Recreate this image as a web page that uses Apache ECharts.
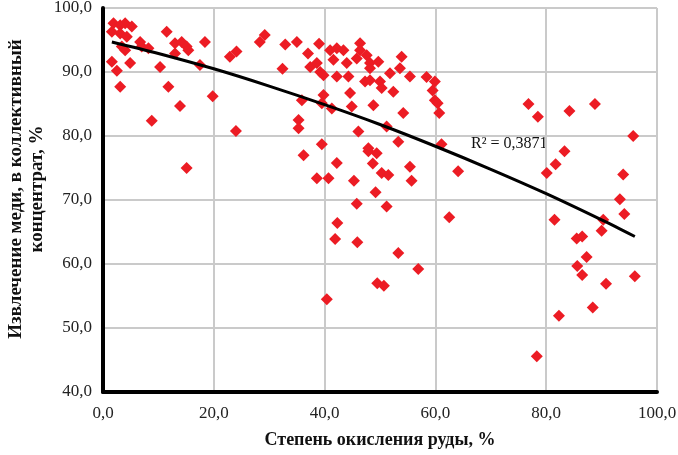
<!DOCTYPE html>
<html>
<head>
<meta charset="utf-8">
<script src="https://cdn.jsdelivr.net/npm/echarts@6/dist/echarts.min.js"></script>
<style>
  html, body { margin: 0; padding: 0; background: #fff; }
  #chart { width: 678px; height: 455px; }
</style>
</head>
<body>
<div id="chart"></div>
<script>
// степень окисления (x, %) и извлечение меди (y, %)
const pointsLeft = [
  [1.9, 97.6], [3.1, 97.3], [4.0, 97.6], [5.2, 97.1], [1.6, 96.3], [3.1, 96.0], [4.3, 95.5],
  [3.4, 94.0], [4.0, 93.4], [6.7, 94.7], [7.0, 94.0], [8.2, 93.7], [11.5, 96.3], [13.0, 94.5],
  [14.2, 94.7], [15.1, 94.0], [15.4, 93.4], [13.0, 92.9], [18.4, 94.7], [1.6, 91.6], [4.9, 91.4],
  [10.3, 90.8], [17.5, 91.1], [2.5, 90.2], [3.1, 87.7], [11.8, 87.7], [19.8, 86.2], [13.9, 84.7],
  [8.8, 82.4], [24.0, 80.8], [15.1, 75.0], [22.9, 92.4], [24.1, 93.2], [28.3, 94.7], [29.2, 95.8],
  [32.9, 94.3], [32.4, 90.5]
];
const pointsMiddle = [
  [35.0, 94.7], [39.0, 94.4], [37.0, 92.9], [37.4, 90.8], [38.6, 91.4], [39.2, 90.0], [39.8, 89.5],
  [41.0, 93.4], [42.2, 93.7], [43.4, 93.4], [41.6, 91.9], [42.2, 89.3], [44.3, 89.3], [44.0, 91.4],
  [46.4, 94.5], [46.4, 93.4], [45.8, 92.1], [47.6, 92.6], [48.2, 91.4], [49.7, 91.6], [48.2, 90.6],
  [47.3, 88.5], [48.2, 88.7], [50.0, 88.5], [50.3, 87.5], [51.8, 89.8], [53.9, 92.4], [53.6, 90.6],
  [55.4, 89.3], [52.4, 86.9], [39.8, 86.4], [44.6, 86.7], [58.4, 89.2], [59.9, 88.5], [59.5, 87.1],
  [59.9, 85.6], [60.4, 85.1], [60.7, 83.6], [54.2, 83.6], [35.9, 85.6], [39.5, 85.1], [41.3, 84.3],
  [44.9, 84.6], [48.8, 84.8], [35.3, 82.5], [35.3, 81.2], [46.1, 80.7], [51.2, 81.5], [53.3, 79.1],
  [39.5, 78.7], [47.9, 78.1], [61.1, 78.7], [36.2, 77.0], [47.9, 77.6], [49.4, 77.3], [42.2, 75.8],
  [48.7, 75.7], [55.4, 75.2], [50.3, 74.2], [51.5, 73.9], [38.6, 73.4], [40.7, 73.4], [45.3, 73.0],
  [55.7, 73.0], [49.2, 71.2], [64.1, 74.5], [45.8, 69.4], [51.2, 69.0], [42.3, 66.4], [41.9, 63.9],
  [45.9, 63.4], [62.5, 67.3], [53.3, 61.7], [56.9, 59.2], [49.5, 57.0], [50.7, 56.6], [40.4, 54.5]
];
const pointsRight = [
  [76.8, 85.0], [78.5, 83.0], [84.2, 83.9], [88.8, 85.0], [95.7, 80.0], [83.3, 77.6], [81.7, 75.6],
  [80.1, 74.2], [93.9, 74.0], [93.3, 70.1], [94.1, 67.8], [81.5, 66.9], [90.3, 66.9], [90.0, 65.2],
  [85.5, 64.0], [86.5, 64.3], [87.3, 61.1], [85.6, 59.7], [86.5, 58.3], [90.8, 56.9], [96.0, 58.1],
  [82.3, 51.9], [88.4, 53.2], [78.3, 45.6]
];
// линия тренда
const trendPoints = [
  [1.6, 94.7], [10, 92.9], [20, 90.5], [30, 87.8], [40, 84.9], [50, 81.8],
  [60, 78.4], [70, 74.8], [80, 71.0], [90, 66.9], [96, 64.3]
];
const r2Text = 'R² = 0,3871';
const xTitle = 'Степень окисления руды, %';
const yTitle = 'Извлечение меди, в коллективный\nконцентрат, %';

const allPoints = pointsLeft.concat(pointsMiddle, pointsRight);

const chart = echarts.init(document.getElementById('chart'));
const serif = 'Liberation Serif, Times New Roman, serif';

const fmt = (v) => v.toFixed(1).replace('.', ',');

const option = {
  animation: false,
  backgroundColor: '#fff',
  grid: { left: 103, right: 21, top: 8, bottom: 63, outerBoundsMode: 'none' },
  xAxis: {
    type: 'value',
    min: 0,
    max: 100,
    interval: 20,
    name: xTitle,
    nameLocation: 'middle',
    nameGap: 39,
    nameTextStyle: { fontFamily: serif, fontSize: 18, fontWeight: 'bold', color: '#111' },
    axisLine: { onZero: false, lineStyle: { color: '#000', width: 4 } },
    axisTick: { show: false },
    axisLabel: { margin: 13, fontFamily: serif, fontSize: 17, color: '#222', formatter: fmt },
    splitLine: { show: true, lineStyle: { color: '#cacaca', width: 2 } },
  },
  yAxis: {
    type: 'value',
    min: 40,
    max: 100,
    interval: 10,
    axisLine: { show: true, lineStyle: { color: '#000', width: 4 } },
    axisTick: { show: false },
    axisLabel: { margin: 11, fontFamily: serif, fontSize: 17, color: '#222', formatter: fmt },
    splitLine: { show: true, lineStyle: { color: '#cacaca', width: 2 } },
  },
  series: [
    {
      type: 'scatter',
      data: allPoints,
      symbol: 'diamond',
      symbolSize: 12,
      itemStyle: { color: '#ec1c24', opacity: 1 },
      z: 2,
    },
    {
      type: 'line',
      data: trendPoints,
      smooth: 0.3,
      showSymbol: false,
      lineStyle: { color: '#000', width: 3 },
      z: 3,
    },
  ],
  graphic: [
    {
      type: 'text',
      left: 471,
      top: 136,
      style: { text: r2Text, font: '16px ' + serif, fill: '#111' },
    },
    {
      // подпись оси Y, повернута
      type: 'text',
      x: 27,
      y: 189,
      rotation: Math.PI / 2,
      style: {
        text: yTitle,
        font: 'bold 19px ' + serif,
        fill: '#111',
        align: 'center',
        verticalAlign: 'middle',
        lineHeight: 21,
      },
    },
  ],
};
chart.setOption(option);
</script>
</body>
</html>
